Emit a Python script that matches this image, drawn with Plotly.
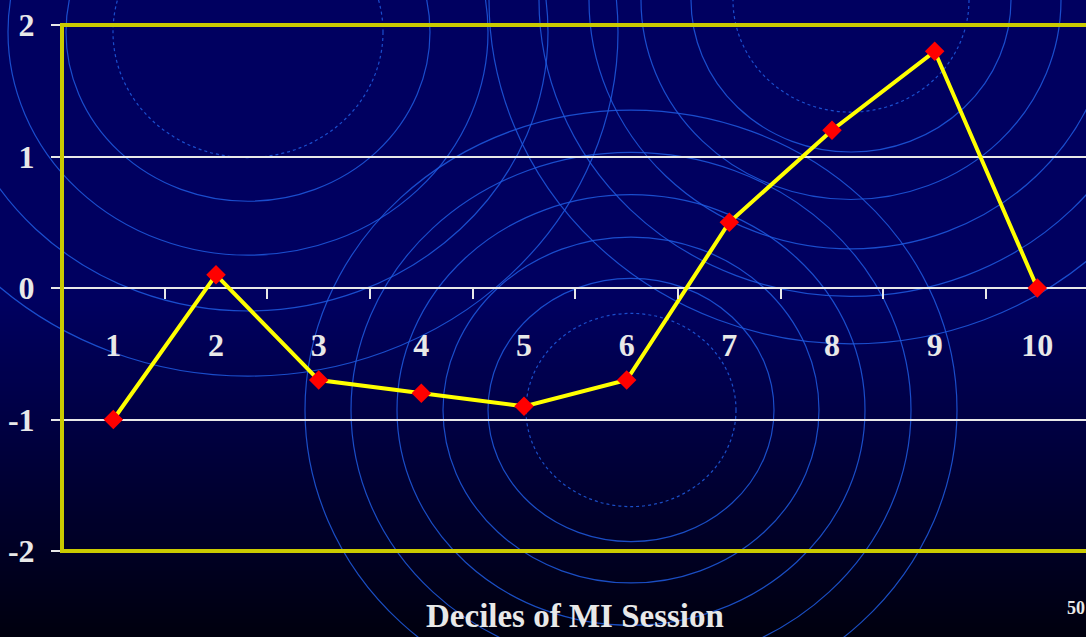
import plotly.graph_objects as go

# Decile categories and mean values plotted on the line
deciles = ["1", "2", "3", "4", "5", "6", "7", "8", "9", "10"]
values = [-1.0, 0.1, -0.7, -0.8, -0.9, -0.7, 0.5, 1.2, 1.8, 0.0]

# Y-axis ticks
y_ticks = [-2, -1, 0, 1, 2]
y_tick_text = ["-2", "-1", "0", "1", "2"]

W, H = 1086, 637
ML, MR, MT, MB = 62, 0, 25, 86
PW, PH = W - ML - MR, H - MT - MB


def px_x(x):
    return (x - ML) / PW


def px_y(y):
    return (H - MB - y) / PH


shapes = []

# Vertical background gradient: navy at the top fading to near-black
top_rgb, bottom_rgb = (0, 0, 96), (0, 0, 14)
fade_start = 300
step = 4
y = 0
while y < H:
    if y < fade_start:
        c = top_rgb
        y_next = fade_start
    else:
        t = (y - fade_start) / (H - fade_start)
        c = tuple(round(a + (b - a) * t) for a, b in zip(top_rgb, bottom_rgb))
        y_next = y + step
    shapes.append(dict(
        type="rect", xref="paper", yref="paper", layer="below",
        x0=px_x(-5), x1=px_x(W + 5), y0=px_y(min(y_next + 1, H + 5)), y1=px_y(y - 1 if y > 0 else -5),
        line=dict(width=0), fillcolor=f"rgb{c}",
    ))
    y = y_next

# Decorative concentric rings (centre x, centre y, x-radii, y/x ratio); innermost is dotted
ring_groups = [
    (248, 32, [135, 182, 240, 300, 370], 0.93),
    (631, 410, [105, 143, 188, 234, 280, 326], 0.92),
    (851, 0, [118, 160, 210, 262, 312, 362], 0.95),
]
ring_color = "rgba(30,90,225,0.85)"
for cx, cy, radii, ratio in ring_groups:
    for i, r in enumerate(radii):
        ry = r * ratio
        shapes.append(dict(
            type="circle", xref="paper", yref="paper", layer="below",
            x0=px_x(cx - r), x1=px_x(cx + r), y0=px_y(cy + ry), y1=px_y(cy - ry),
            line=dict(color=ring_color, width=1.2, dash="dot" if i == 0 else "solid"),
            fillcolor="rgba(0,0,0,0)",
        ))

# Yellow frame around the plotting area
shapes.append(dict(
    type="rect", xref="paper", yref="paper", layer="above",
    x0=0, x1=1.05, y0=0, y1=1,
    line=dict(color="#CACA00", width=4), fillcolor="rgba(0,0,0,0)",
))

fig = go.Figure()
fig.add_trace(go.Scatter(
    x=deciles, y=values, mode="lines+markers",
    line=dict(color="#FFFF00", width=4),
    marker=dict(symbol="diamond", size=15, color="#FF0000", line=dict(width=0)),
    hoverinfo="x+y", showlegend=False, cliponaxis=False,
))

label_font = dict(family="Liberation Serif, Times New Roman, serif", size=32,
                  color="#E8E8E8", weight="bold")

fig.update_layout(
    width=W, height=H,
    margin=dict(l=ML, r=MR, t=MT, b=MB, pad=0),
    paper_bgcolor="rgb(0,0,96)",
    plot_bgcolor="rgba(0,0,0,0)",
    shapes=shapes,
    xaxis=dict(
        type="category", categoryorder="array", categoryarray=deciles,
        range=[-0.5, 9.474], anchor="free", position=0.5,
        showgrid=False, zeroline=False, showline=False,
        ticks="outside", ticklen=10, tickwidth=1.5, tickcolor="#E8E8E8",
        tickson="boundaries", tickfont=label_font, ticklabelstandoff=35,
        fixedrange=True,
    ),
    yaxis=dict(
        range=[-2, 2], tickvals=y_ticks, ticktext=y_tick_text,
        showgrid=True, gridcolor="#E8E8E8", gridwidth=1.5,
        zeroline=True, zerolinecolor="#E8E8E8", zerolinewidth=2,
        showline=False,
        ticks="outside", ticklen=10, tickwidth=1.5, tickcolor="#E8E8E8",
        tickfont=label_font, ticklabelstandoff=10,
        fixedrange=True,
    ),
    annotations=[
        dict(text="Deciles of MI Session", xref="paper", yref="paper",
             x=px_x(575), y=px_y(616), xanchor="center", yanchor="middle",
             showarrow=False,
             font=dict(family="Liberation Serif, Times New Roman, serif", size=33,
                       color="#E8E8E8", weight="bold")),
        dict(text="50", xref="paper", yref="paper",
             x=px_x(1065), y=px_y(608), xanchor="left", yanchor="middle",
             showarrow=False,
             font=dict(family="Liberation Serif, Times New Roman, serif", size=18,
                       color="#E8E8E8", weight="bold")),
    ],
)

fig.write_html("out.html", config=dict(displayModeBar=False))
